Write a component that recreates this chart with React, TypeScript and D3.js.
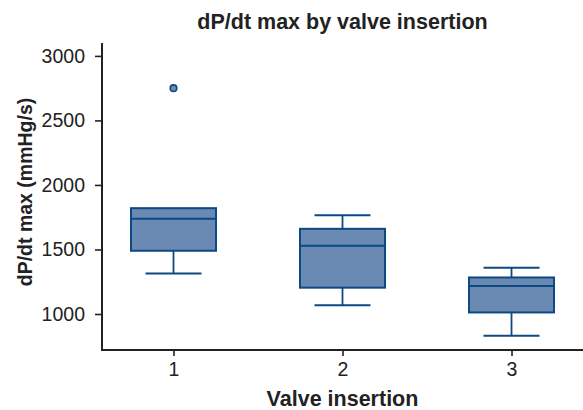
import React, { useEffect, useRef } from 'react';
import * as d3 from 'd3';

// Summary statistics (mmHg/s)
const categories = ['1', '2', '3'];
const q1 = [1490, 1204, 1012];
const medians = [1738, 1529, 1217];
const q3 = [1820, 1660, 1283];
const whiskerLow = [1314, 1067, 832];
const whiskerHigh = [1820, 1766, 1358];
const outliers: { cat: string; value: number }[] = [{ cat: '1', value: 2750 }];
const yTicks = [1000, 1500, 2000, 2500, 3000];

const W = 583;
const H = 410;
const margin = { top: 43, right: 0, bottom: 60, left: 102 };

const App: React.FC = () => {
  const svgRef = useRef<SVGSVGElement | null>(null);

  useEffect(() => {
    if (!svgRef.current) return;
    const svg = d3.select(svgRef.current);
    svg.selectAll('*').remove();

    const plotW = W - margin.left - margin.right;
    const plotH = H - margin.top - margin.bottom;
    const font = '"Liberation Sans", Arial, sans-serif';

    const x = d3.scalePoint<string>()
      .domain(categories)
      .range([0, plotW])
      .padding(0.423);

    const y = d3.scaleLinear()
      .domain([721, 3100])
      .range([plotH, 0]);

    const g = svg.append('g')
      .attr('transform', `translate(${margin.left},${margin.top})`);

    const fill = '#6a8ab3';
    const stroke = '#0d4a82';
    const boxW = 85;
    const capW = 56;

    categories.forEach((c, i) => {
      const cx = x(c) ?? 0;
      const bg = g.append('g');

      // whiskers
      bg.append('line')
        .attr('x1', cx).attr('x2', cx)
        .attr('y1', y(q1[i])).attr('y2', y(whiskerLow[i]))
        .attr('stroke', stroke).attr('stroke-width', 1.8);
      bg.append('line')
        .attr('x1', cx).attr('x2', cx)
        .attr('y1', y(q3[i])).attr('y2', y(whiskerHigh[i]))
        .attr('stroke', stroke).attr('stroke-width', 1.8);
      bg.append('line')
        .attr('x1', cx - capW / 2).attr('x2', cx + capW / 2)
        .attr('y1', y(whiskerLow[i])).attr('y2', y(whiskerLow[i]))
        .attr('stroke', stroke).attr('stroke-width', 2);
      if (whiskerHigh[i] > q3[i]) {
        bg.append('line')
          .attr('x1', cx - capW / 2).attr('x2', cx + capW / 2)
          .attr('y1', y(whiskerHigh[i])).attr('y2', y(whiskerHigh[i]))
          .attr('stroke', stroke).attr('stroke-width', 2);
      }

      // box
      bg.append('rect')
        .attr('x', cx - boxW / 2)
        .attr('y', y(q3[i]))
        .attr('width', boxW)
        .attr('height', y(q1[i]) - y(q3[i]))
        .attr('fill', fill)
        .attr('stroke', stroke)
        .attr('stroke-width', 2);

      // median
      bg.append('line')
        .attr('x1', cx - boxW / 2).attr('x2', cx + boxW / 2)
        .attr('y1', y(medians[i])).attr('y2', y(medians[i]))
        .attr('stroke', stroke).attr('stroke-width', 2);
    });

    g.selectAll('circle.outlier')
      .data(outliers)
      .enter()
      .append('circle')
      .attr('class', 'outlier')
      .attr('cx', d => x(d.cat) ?? 0)
      .attr('cy', d => y(d.value))
      .attr('r', 3.3)
      .attr('fill', fill)
      .attr('stroke', stroke)
      .attr('stroke-width', 1.6);

    // axes
    const yAxis = d3.axisLeft(y).tickValues(yTicks).tickFormat(d3.format('d')).tickSize(7).tickPadding(10);
    const xAxis = d3.axisBottom(x).tickSize(6).tickPadding(6);

    const gy = g.append('g').call(yAxis);
    const gx = g.append('g').attr('transform', `translate(0,${plotH})`).call(xAxis);

    [gy, gx].forEach(ax => {
      ax.select('.domain').remove();
      ax.selectAll('line').attr('stroke', '#222').attr('stroke-width', 1.6);
      ax.selectAll('text')
        .attr('fill', '#222')
        .style('font-size', '19.5px')
        .style('font-family', font);
    });

    // axis lines
    g.append('line')
      .attr('x1', 0).attr('x2', 0).attr('y1', 0).attr('y2', plotH + 1)
      .attr('stroke', '#222').attr('stroke-width', 2);
    g.append('line')
      .attr('x1', -1).attr('x2', plotW).attr('y1', plotH).attr('y2', plotH)
      .attr('stroke', '#222').attr('stroke-width', 2);

    // labels
    svg.append('text')
      .attr('x', margin.left + plotW / 2)
      .attr('y', 29)
      .attr('text-anchor', 'middle')
      .style('font-family', font)
      .style('font-size', '21.5px')
      .style('font-weight', 'bold')
      .attr('fill', '#222')
      .text('dP/dt max by valve insertion');

    svg.append('text')
      .attr('x', margin.left + plotW / 2)
      .attr('y', 406)
      .attr('text-anchor', 'middle')
      .style('font-family', font)
      .style('font-size', '21.5px')
      .style('font-weight', 'bold')
      .attr('fill', '#222')
      .text('Valve insertion');

    svg.append('text')
      .attr('transform', `translate(32,192) rotate(-90)`)
      .attr('text-anchor', 'middle')
      .style('font-family', font)
      .style('font-size', '19.5px')
      .style('font-weight', 'bold')
      .attr('fill', '#222')
      .text('dP/dt max (mmHg/s)');
  }, []);

  return (
    <svg
      ref={svgRef}
      width={W}
      height={H}
      style={{ display: 'block', position: 'absolute', left: 0, top: 0, background: '#fff' }}
    />
  );
};

export default App;
